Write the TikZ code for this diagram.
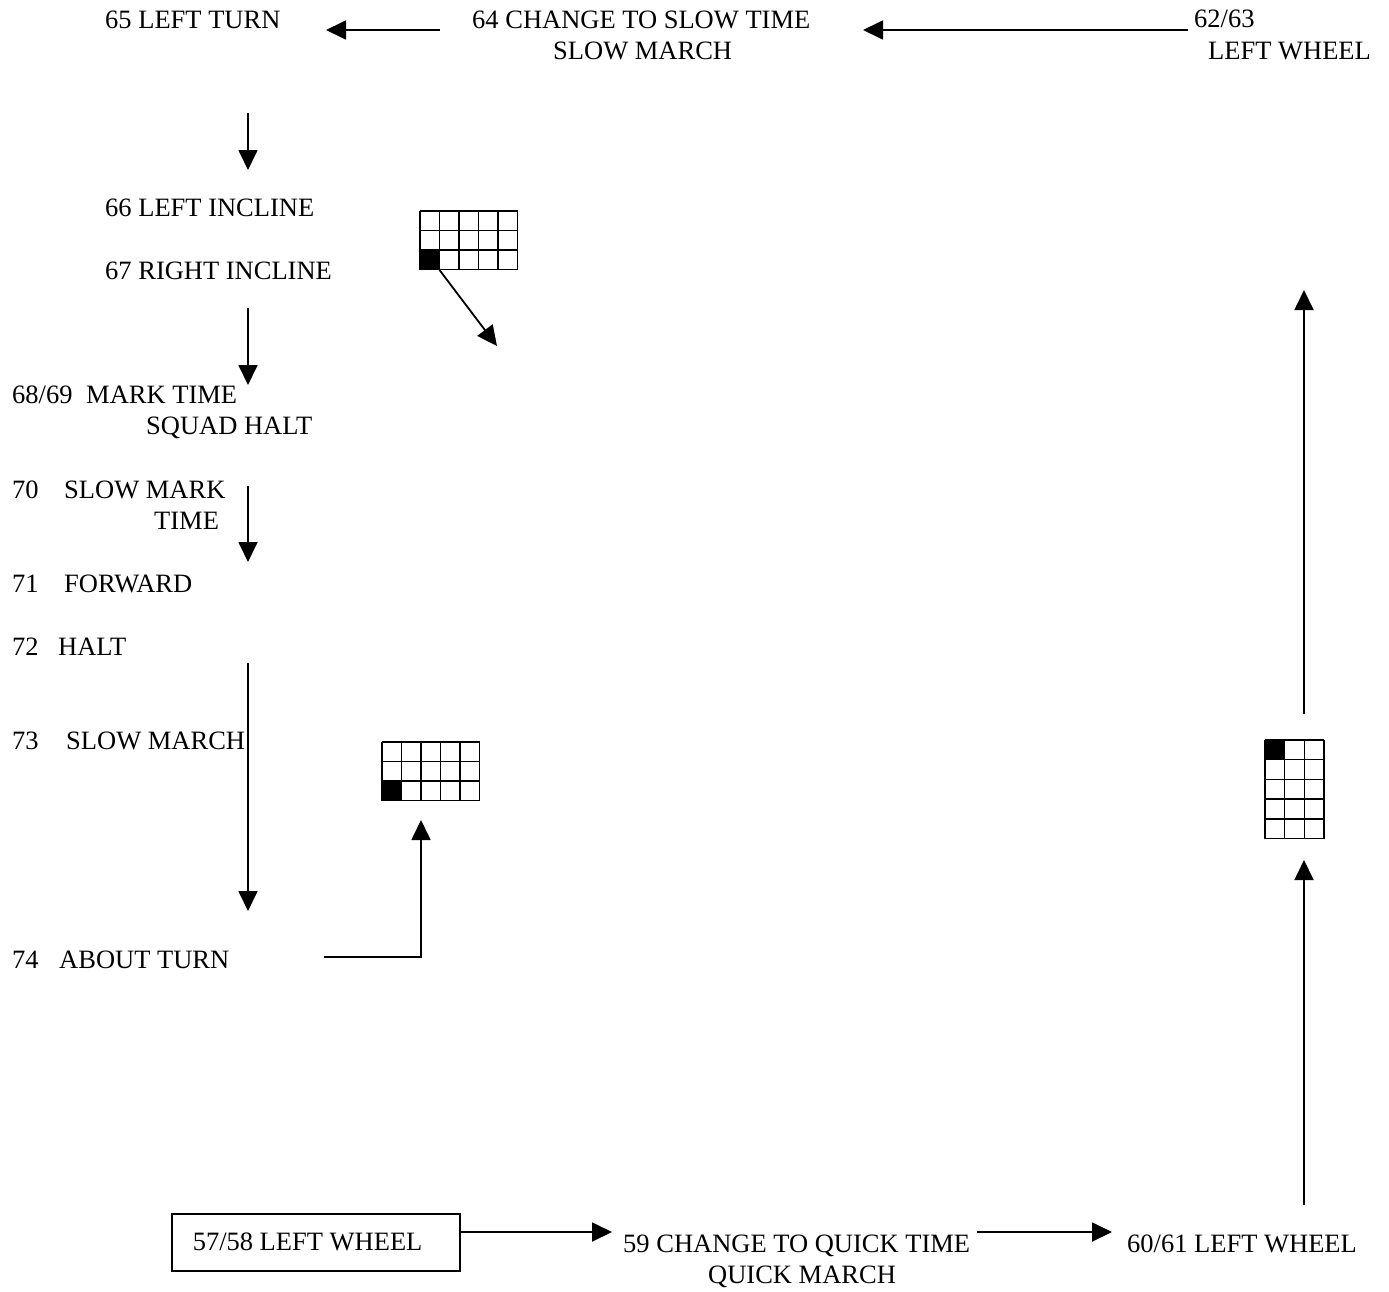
\documentclass[tikz,border=0pt]{standalone}
\usepackage{fontspec}
\setmainfont{Liberation Serif}
\usetikzlibrary{arrows.meta}
\newcommand\drillgrid[5]{% x, y, cols, rows, cell
  \foreach \i in {0,...,#3} {\draw[gridline] (#1+\i*#5,#2) -- (#1+\i*#5,#2+#4*#5);}
  \foreach \j in {0,...,#4} {\draw[gridline] (#1,#2+\j*#5) -- (#1+#3*#5,#2+\j*#5);}
}
\begin{document}
\begin{tikzpicture}[x=1pt,y=-1pt,
  lbl/.style={anchor=base west,inner sep=0pt,font=\fontsize{26.5}{30}\selectfont},
  conn/.style={line width=1.8pt,-{Triangle[length=20pt,width=19pt]}},
  plainline/.style={line width=1.8pt},
  gridline/.style={line width=1.5pt},
  boxnode/.style={draw,line width=1.5pt,anchor=north west,inner xsep=21pt,inner ysep=0pt,
    text width=246pt,minimum height=57pt,align=flush left,font=\fontsize{26.5}{30}\selectfont}]
\useasboundingbox (0,0) rectangle (1389,1291);

% labels
\node[lbl] (n65) at (105,28) {65 LEFT TURN};
\node[lbl] (n64a) at (472,28) {64 CHANGE TO SLOW TIME};
\node[lbl] (n64b) at (553,59) {SLOW MARCH};
\node[lbl] (n62a) at (1194,27) {62/63};
\node[lbl] (n62b) at (1208,59) {LEFT WHEEL};
\node[lbl] (n66) at (105,216) {66 LEFT INCLINE};
\node[lbl] (n67) at (105,279) {67 RIGHT INCLINE};
\node[lbl] (n68n) at (12,403) {68/69};
\node[lbl] (n68a) at (86,403) {MARK TIME};
\node[lbl] (n68b) at (146,434) {SQUAD HALT};
\node[lbl] (n70n) at (12,498) {70};
\node[lbl] (n70a) at (64,498) {SLOW MARK};
\node[lbl] (n70b) at (154,529) {TIME};
\node[lbl] (n71n) at (12,592) {71};
\node[lbl] (n71a) at (64,592) {FORWARD};
\node[lbl] (n72n) at (12,655) {72};
\node[lbl] (n72a) at (58,655) {HALT};
\node[lbl] (n73n) at (12,749) {73};
\node[lbl] (n73a) at (66,749) {SLOW MARCH};
\node[lbl] (n74n) at (12,968) {74};
\node[lbl] (n74a) at (59,968) {ABOUT TURN};
\node[boxnode] (n57) at (171,1213) {57/58 LEFT WHEEL};
\node[lbl] (n59a) at (623,1252) {59 CHANGE TO QUICK TIME};
\node[lbl] (n59b) at (708,1283) {QUICK MARCH};
\node[lbl] (n60) at (1127,1252) {60/61 LEFT WHEEL};

% grids
\fill (420,250.5) rectangle (439.5,270);
\drillgrid{420}{211}{5}{3}{19.5}
\fill (382,781) rectangle (401.5,800.5);
\drillgrid{382}{742}{5}{3}{19.5}
\fill (1265,740) rectangle (1284.5,760);
\drillgrid{1265}{740}{3}{5}{19.7}

% connector coordinates
\coordinate (a1s) at (440,30);   \coordinate (a1e) at (326,30);
\coordinate (a2s) at (1188,30);  \coordinate (a2e) at (863,30);
\coordinate (a3s) at (248,113);  \coordinate (a3e) at (248,170);
\coordinate (a4s) at (248,308);  \coordinate (a4e) at (248,385);
\coordinate (a5s) at (439.5,270);\coordinate (a5e) at (497,346);
\coordinate (a6s) at (248,486);  \coordinate (a6e) at (248,562);
\coordinate (a7s) at (248,663);  \coordinate (a7e) at (248,911);
\coordinate (a8s) at (324,957);  \coordinate (a8c) at (421,957); \coordinate (a8e) at (421,820);
\coordinate (a9s) at (1304,1205);\coordinate (a9e) at (1304,860);
\coordinate (a10s) at (1304,714);\coordinate (a10e) at (1304,290);
\coordinate (a11s) at (459,1232);\coordinate (a11e) at (612,1232);
\coordinate (a12s) at (977,1232);\coordinate (a12e) at (1112,1232);

% connectors
\draw[conn] (a1s) -- (a1e);
\draw[conn] (a2s) -- (a2e);
\draw[conn] (a3s) -- (a3e);
\draw[conn] (a4s) -- (a4e);
\draw[conn] (a5s) -- (a5e);
\draw[conn] (a6s) -- (a6e);
\draw[conn] (a7s) -- (a7e);
\draw[conn] (a8s) -- (a8c) -- (a8e);
\draw[conn] (a9s) -- (a9e);
\draw[conn] (a10s) -- (a10e);
\draw[conn] (a11s) -- (a11e);
\draw[conn] (a12s) -- (a12e);
\end{tikzpicture}
\end{document}
